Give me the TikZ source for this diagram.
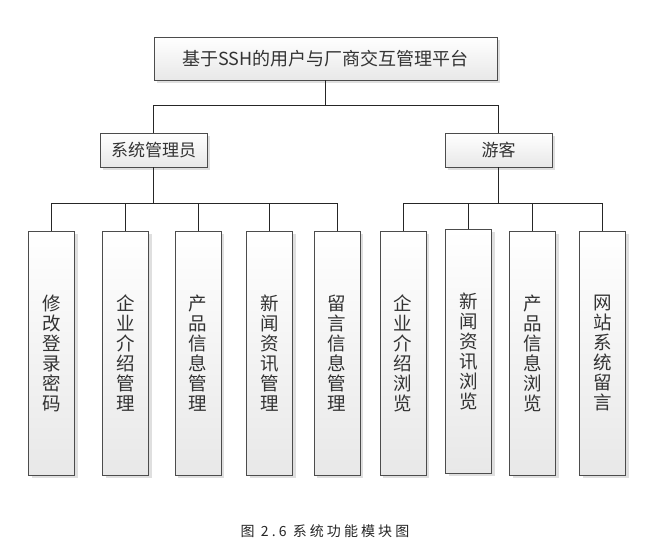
\documentclass[tikz,border=0pt]{standalone}
\usepackage{fontspec}
\newfontfamily\cjk{Noto Sans CJK SC}
\newfontfamily\cjkwide{Noto Sans CJK SC}[LetterSpace=22]
\usepackage{tikz}
\usetikzlibrary{positioning,shadows}
\usepackage{xcolor}

\tikzset{
  modbox/.style={draw=black!70, line width=0.9pt, top color=white, bottom color=black!9,
    drop shadow={shadow xshift=3pt, shadow yshift=-3pt, fill=black!25},
    text=black!80, font=\cjk, inner sep=0pt},
  topbox/.style={modbox, minimum width=343pt, minimum height=43pt, font=\cjk\fontsize{18}{20}\selectfont},
  rolebox/.style={modbox, minimum width=107pt, minimum height=34pt, font=\cjk\fontsize{17}{19}\selectfont},
  funcbox/.style={modbox, minimum width=46pt, minimum height=244pt, align=center,
    font=\cjk\fontsize{18.5}{20}\selectfont},
  link/.style={draw=black!85, line width=0.9pt}
}

\begin{document}
\begin{tikzpicture}[x=1pt, y=-1pt]
  \useasboundingbox (0,0) rectangle (665,548);
  % platform
  \node[topbox] (plat) at (325.5, 58.5) {基于SSH的用户与厂商交互管理平台};
  % roles
  \node[rolebox] (admin) at (153.5, 150) {系统管理员};
  \node[rolebox] (guest) at (498.5, 150) {游客};
  % admin functions
  \node[funcbox] (f1) at (51.5, 353) {修\\改\\登\\录\\密\\码};
  \node[funcbox] (f2) at (125.5, 353) {企\\业\\介\\绍\\管\\理};
  \node[funcbox] (f3) at (198, 353) {产\\品\\信\\息\\管\\理};
  \node[funcbox] (f4) at (269.5, 353) {新\\闻\\资\\讯\\管\\理};
  \node[funcbox] (f5) at (337, 353) {留\\言\\信\\息\\管\\理};
  % guest functions
  \node[funcbox] (g1) at (403, 353) {企\\业\\介\\绍\\浏\\览};
  \node[funcbox] (g2) at (468.5, 351) {新\\闻\\资\\讯\\浏\\览};
  \node[funcbox] (g3) at (532.5, 353) {产\\品\\信\\息\\浏\\览};
  \node[funcbox] (g4) at (602.5, 353) {网\\站\\系\\统\\留\\言};
  % bus levels
  \coordinate (busA) at (325.5, 105);
  \coordinate (busB) at (0, 203);
  % connectors
  \draw[link] (plat.south) -- (busA);
  \draw[link] (admin.north) -- (admin.north |- busA) -- (guest.north |- busA) -- (guest.north);
  \draw[link] (admin.south) -- (admin.south |- busB);
  \draw[link] (guest.south) -- (guest.south |- busB);
  \draw[link] (f1.north) -- (f1.north |- busB) -- (f5.north |- busB) -- (f5.north);
  \draw[link] (g1.north) -- (g1.north |- busB) -- (g4.north |- busB) -- (g4.north);
  \foreach \n in {f2,f3,f4,g2,g3}
    \draw[link] (\n.north) -- (\n.north |- busB);
  % caption
  \node[font=\cjkwide\fontsize{14}{16}\selectfont, text=black!85] (cap) at (325, 531) {图 2.6 系统功能模块图};
\end{tikzpicture}
\end{document}
